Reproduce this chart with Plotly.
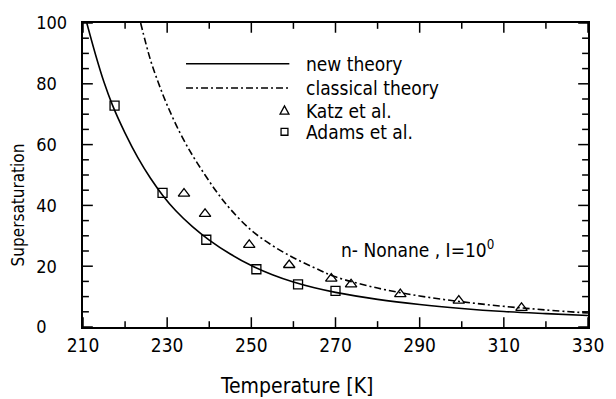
import plotly.graph_objects as go

# ---- data ----
new_T = [210.9, 213, 215, 217, 220, 223, 226, 229, 232, 236, 240, 245, 250, 255, 260, 265, 270, 280, 290, 300, 310, 320, 330]
new_S = [100, 89.5, 80.5, 73, 63.8, 55.8, 49, 43.2, 38.3, 33, 28.6, 24, 20.2, 17.2, 14.8, 12.9, 11.4, 9.1, 7.4, 6.1, 5.1, 4.4, 3.8]

class_T = [223.7, 226, 228, 230, 233, 236, 239, 242, 245, 250, 255, 260, 265, 270, 280, 290, 300, 310, 320, 330]
class_S = [100, 88, 80, 73, 64, 56.5, 50, 44, 38.8, 31.8, 26.8, 22.8, 19.5, 16.5, 12.8, 10.2, 8.3, 6.8, 5.6, 4.6]

katz_T = [234, 239, 249.5, 259, 269, 273.7, 285.4, 299.3, 314.2]
katz_S = [43.9, 37.2, 27, 20.4, 15.9, 14, 10.8, 8.7, 6.3]

adams_T = [217.5, 228.9, 239.3, 251.2, 261.1, 270]
adams_S = [72.8, 44.1, 28.7, 19, 14, 11.9]

x_ticks = [210, 230, 250, 270, 290, 310, 330]
x_minor = [220, 240, 260, 280, 300, 320]
y_ticks = [0, 20, 40, 60, 80, 100]
y_minor = [5, 10, 15, 25, 30, 35, 45, 50, 55, 65, 70, 75, 85, 90, 95]
y_tick_labels = ["0", "20", "40", "60", "80", "100"]

legend_names = ["new theory", "classical theory", "Katz et al.", "Adams et al."]

FONT = "DejaVu Sans Condensed, Liberation Sans Narrow, DejaVu Sans, sans-serif"
DASHDOT = "7px,3px,2px,3px"

# y labels are left-aligned in the reference: pad with figure spaces, then a gap to the axis
FIG_SP, NBSP = "\u2007", "\u00a0"
y_text = [s + FIG_SP * (3 - len(s)) + NBSP * 2 for s in y_tick_labels]

fig = go.Figure()
fig.add_trace(go.Scatter(x=new_T, y=new_S, mode="lines", line=dict(color="black", width=1.6, shape="spline"),
                         name=legend_names[0]))
fig.add_trace(go.Scatter(x=class_T, y=class_S, mode="lines",
                         line=dict(color="black", width=1.6, shape="spline", dash=DASHDOT), name=legend_names[1]))
fig.add_trace(go.Scatter(x=katz_T, y=katz_S, mode="markers",
                         marker=dict(symbol="triangle-up-open", size=10, color="black", line=dict(width=1.3)),
                         name=legend_names[2]))
fig.add_trace(go.Scatter(x=adams_T, y=adams_S, mode="markers",
                         marker=dict(symbol="square-open", size=9, color="black", line=dict(width=1.3)),
                         name=legend_names[3]))

# ---- inward tick marks on all four sides (positions from the tick lists) ----
PLOT_W, PLOT_H = 514.0, 312.0
MAJ, MIN = 10.0, 6.0
tick_line = dict(color="black", width=1.5)
for vals, ln in ((x_ticks, MAJ), (x_minor, MIN)):
    for v in vals:
        fig.add_shape(type="line", xref="x", yref="paper", x0=v, x1=v, y0=0, y1=ln / PLOT_H, line=tick_line)
        fig.add_shape(type="line", xref="x", yref="paper", x0=v, x1=v, y0=1, y1=1 - ln / PLOT_H, line=tick_line)
for vals, ln in ((y_ticks, MAJ), (y_minor, MIN)):
    for v in vals:
        fig.add_shape(type="line", xref="paper", yref="y", y0=v, y1=v, x0=0, x1=ln / PLOT_W, line=tick_line)
        fig.add_shape(type="line", xref="paper", yref="y", y0=v, y1=v, x0=1, x1=1 - ln / PLOT_W, line=tick_line)

# ---- hand-drawn legend (paper coordinates over the plot area) ----
leg_y = [0.866, 0.786, 0.7115, 0.642]
leg_x0, leg_x1, leg_mx, leg_tx = 0.204, 0.4086, 0.399, 0.4377
fig.add_shape(type="line", xref="paper", yref="paper", x0=leg_x0, x1=leg_x1, y0=leg_y[0], y1=leg_y[0],
              line=dict(color="black", width=1.6))
fig.add_shape(type="line", xref="paper", yref="paper", x0=leg_x0, x1=leg_x1, y0=leg_y[1], y1=leg_y[1],
              line=dict(color="black", width=1.6, dash=DASHDOT))
tw, tt, tb = 0.0088, 0.016, 0.0112
fig.add_shape(type="path", xref="paper", yref="paper",
              path=f"M {leg_mx - tw} {leg_y[2] - tb} L {leg_mx + tw} {leg_y[2] - tb} L {leg_mx} {leg_y[2] + tt} Z",
              line=dict(color="black", width=1.3))
sw, sh = 0.0068, 0.0112
fig.add_shape(type="rect", xref="paper", yref="paper", x0=leg_mx - sw, x1=leg_mx + sw,
              y0=leg_y[3] - sh, y1=leg_y[3] + sh, line=dict(color="black", width=1.3))
for name, yy in zip(legend_names, leg_y):
    fig.add_annotation(x=leg_tx, y=yy, xref="paper", yref="paper", text=name, showarrow=False,
                       xanchor="left", yanchor="middle", font=dict(family=FONT, size=19, color="black"))

fig.add_annotation(x=289.5, y=25.6, xref="x", yref="y", text="n- Nonane , I=10<sup>0</sup>", showarrow=False,
                   xanchor="center", yanchor="middle", font=dict(family=FONT, size=19, color="black"))

# axis titles as annotations (offset like the reference)
fig.add_annotation(x=0.422, y=0, xref="paper", yref="paper", yshift=-59, text="Temperature [K]",
                   showarrow=False, xanchor="center", yanchor="middle",
                   font=dict(family=FONT, size=21, color="black"))
fig.add_annotation(x=0, y=0.40, xref="paper", yref="paper", xshift=-65, text="Supersaturation",
                   textangle=-90, showarrow=False, xanchor="center", yanchor="middle",
                   font=dict(family=FONT, size=17, color="black"))

axis_common = dict(showgrid=False, zeroline=False, showline=True, linecolor="black", linewidth=2,
                   mirror=True, ticks="")

fig.update_layout(
    width=616, height=399,
    margin=dict(l=83, r=19, t=15, b=72),
    paper_bgcolor="white", plot_bgcolor="white",
    showlegend=False,
    xaxis=dict(range=[210, 330], tickmode="array", tickvals=x_ticks,
               tickfont=dict(family=FONT, size=19, color="black"), **axis_common),
    yaxis=dict(range=[0, 100], tickmode="array", tickvals=y_ticks, ticktext=y_text,
               tickfont=dict(family=FONT, size=18, color="black"), **axis_common),
)

fig.write_html("out.html")
